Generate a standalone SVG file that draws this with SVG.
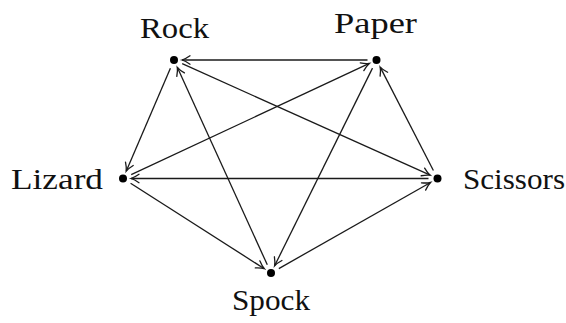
<svg xmlns="http://www.w3.org/2000/svg" width="566" height="323" viewBox="0 0 566 323">
<style>
.lbl{font-family:"Liberation Serif","DejaVu Serif",serif;font-size:30px;fill:#111}
.e{stroke:#1a1a1a;stroke-width:1.3;fill:none;marker-end:url(#ah)}
.dot{fill:#000}
</style>
<defs>
<marker id="ah" markerUnits="userSpaceOnUse" markerWidth="16" markerHeight="16" viewBox="-11 -8 13 16" refX="0" refY="0" orient="auto">
<path d="M-8,-4.2 Q-3.5,-1 0,0 Q-3.5,1 -8,4.2" fill="none" stroke="#1a1a1a" stroke-width="1.3" stroke-linecap="round"/>
</marker>
</defs>
<rect width="566" height="323" fill="#fff"/>
<g id="connectors">
<line class="e" x1="367.5" y1="60" x2="182" y2="60"/>
<line class="e" x1="433.4" y1="170.5" x2="380.2" y2="67.1"/>
<line class="e" x1="170.4" y1="68.3" x2="126.2" y2="171.2"/>
<line class="e" x1="130.6" y1="183.3" x2="264.3" y2="268.7"/>
<line class="e" x1="278.8" y1="268.6" x2="430.5" y2="182.5"/>
<line class="e" x1="428.5" y1="178.5" x2="131" y2="178.5"/>
<line class="e" x1="131.2" y1="174.7" x2="369.3" y2="63.4"/>
<line class="e" x1="372.5" y1="68.1" x2="274.6" y2="265.8"/>
<line class="e" x1="267.3" y1="264.8" x2="177.3" y2="67.3"/>
<line class="e" x1="182.2" y1="63.7" x2="430.2" y2="175.2"/>
</g>
<g id="rock"><circle class="dot" cx="174" cy="60" r="4"/><text class="lbl" x="140" y="38" textLength="69" lengthAdjust="spacingAndGlyphs">Rock</text></g>
<g id="paper"><circle class="dot" cx="376.5" cy="60" r="4"/><text class="lbl" x="334" y="33" textLength="83" lengthAdjust="spacingAndGlyphs">Paper</text></g>
<g id="scissors"><circle class="dot" cx="437.5" cy="178.5" r="4"/><text class="lbl" x="463" y="189" textLength="102" lengthAdjust="spacingAndGlyphs">Scissors</text></g>
<g id="spock"><circle class="dot" cx="271" cy="273" r="4"/><text class="lbl" x="232" y="310" textLength="78" lengthAdjust="spacingAndGlyphs">Spock</text></g>
<g id="lizard"><circle class="dot" cx="123" cy="178.5" r="4"/><text class="lbl" x="11" y="189" textLength="92" lengthAdjust="spacingAndGlyphs">Lizard</text></g>
</svg>
